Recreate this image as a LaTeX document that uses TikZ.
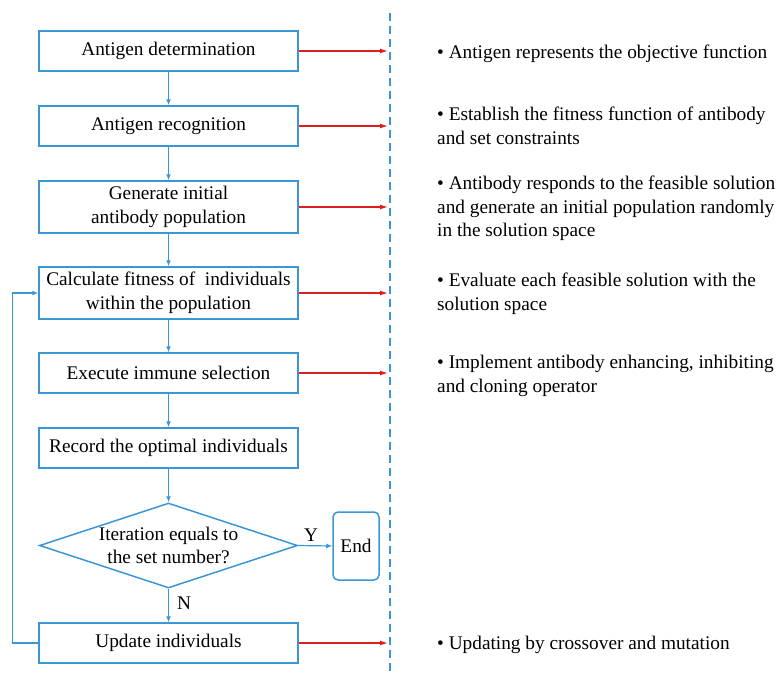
\documentclass[tikz,border=0pt]{standalone}
\usepackage{fontspec}
\setmainfont{Liberation Serif}
\usetikzlibrary{shapes.geometric,arrows.meta}
\definecolor{bl}{RGB}{58,150,212}
\definecolor{rd}{RGB}{222,30,30}
\begin{document}
\begin{tikzpicture}[x=1pt,y=-1pt,
  every node/.style={font=\fontsize{19.3}{23.5}\selectfont},
  box/.style={draw=bl,line width=1.5pt,rectangle,minimum width=259pt,inner sep=0pt,align=center},
  flow/.style={draw=bl,line width=1.2pt,-{Latex[length=6pt,width=5pt]}},
  redarr/.style={draw=rd,line width=1.3pt,-{Latex[length=8pt,width=5pt]}},
  note/.style={anchor=north west,align=left,inner sep=0pt}]
\useasboundingbox (0,0) rectangle (783,672);
\coordinate (tipx) at (388,0);
\node[box,minimum height=40pt] (b1) at (168.5,51) {Antigen determination};
\node[box,minimum height=40pt] (b2) at (168.5,126) {Antigen recognition};
\node[box,minimum height=52pt] (b3) at (168.5,207) {Generate initial\\antibody population};
\node[box,minimum height=52pt] (b4) at (168.5,293) {Calculate fitness of \ individuals\\within the population};
\node[box,minimum height=40pt] (b5) at (168.5,373) {Execute immune selection};
\node[box,minimum height=40pt] (b6) at (168.5,448) {Record the optimal individuals};
\node[draw=bl,line width=1.5pt,diamond,minimum width=258pt,minimum height=85pt,inner sep=0pt,aspect=3.03] (dia) at (168.5,545.5) {};
\node[align=center] (diat) at (dia.center) {Iteration equals to\\the set number?};
\node[draw=bl,line width=1.5pt,rounded corners=5pt,minimum width=46pt,minimum height=68pt,inner sep=0pt] (end) at (356,546) {End};
\node[box,minimum height=40pt] (b7) at (168.5,643) {Update individuals};
\node (ylab) at (311,535) {Y};
\node (nlab) at (184,603) {N};
% flow
\draw[flow] (b1) -- (b2);
\draw[flow] (b2) -- (b3);
\draw[flow] (b3) -- (b4);
\draw[flow] (b4) -- (b5);
\draw[flow] (b5) -- (b6);
\draw[flow] (b6) -- (dia.north);
\draw[flow] (dia.east) -- (end.west);
\draw[flow] (dia.south) -- (b7);
\draw[flow] (b7.west) -- ++(-26,0) |- (b4.west);
% dashed line
\coordinate (dtop) at (390,13);
\coordinate (dbot) at (390,672);
\draw[bl,line width=1.2pt,dash pattern=on 8pt off 5pt] (dtop) -- (dbot);
% red arrows
\foreach \b in {b1,b2,b3,b4,b5,b7}{\draw[redarr] (\b.east) -- (\b.east -| tipx);}
% notes
\node[note] (n1) at (437,45) {• Antigen represents the objective function};
\node[note] (n2) at (437,107) {• Establish the fitness function of antibody\\and set constraints};
\node[note] (n3) at (437,176) {• Antibody responds to the feasible solution\\and generate an initial population randomly\\in the solution space};
\node[note] (n4) at (437,273) {• Evaluate each feasible solution with the\\solution space};
\node[note] (n5) at (437,355) {• Implement antibody enhancing, inhibiting\\and cloning operator};
\node[note] (n6) at (437,636) {• Updating by crossover and mutation};
\end{tikzpicture}
\end{document}
